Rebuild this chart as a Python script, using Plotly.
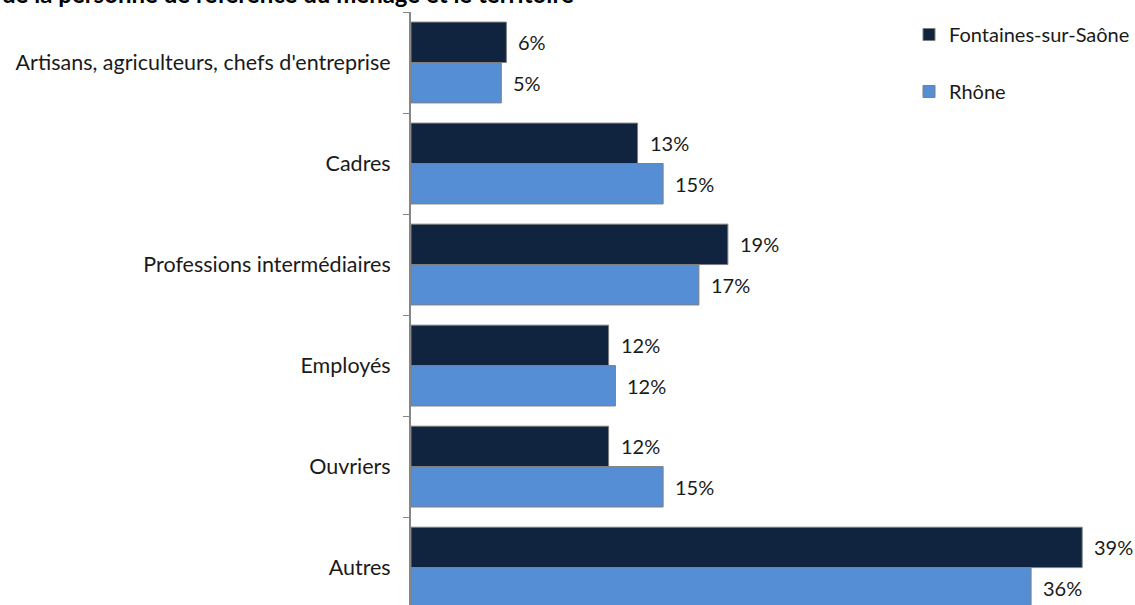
import plotly.graph_objects as go

categories = [
    "Artisans, agriculteurs, chefs d'entreprise",
    "Cadres",
    "Professions intermédiaires",
    "Employés",
    "Ouvriers",
    "Autres",
]
fontaines = [5.6, 13.3, 18.6, 11.6, 11.6, 39.4]
rhone = [5.3, 14.8, 16.9, 12.0, 14.8, 36.4]
series_names = ["Fontaines-sur-Saône", "Rhône"]
title_text = "de la personne de référence du ménage et le territoire"

W, H = 1135, 605
ML, MT = 411, 12
PW, PH = W - ML, H - MT
FONT = "Lato"

fig = go.Figure()
fig.add_trace(go.Bar(
    y=categories, x=fontaines, orientation="h", name=series_names[0],
    marker=dict(color="#11243F", line=dict(color="#7F7F7F", width=1)),
    legendgroup="a",
))
fig.add_trace(go.Bar(
    y=categories, x=rhone, orientation="h", name=series_names[1],
    marker=dict(color="#558ED5", line=dict(color="#7F7F7F", width=1)),
    legendgroup="b",
))

# value labels to the right of each bar
group_px = PH / 5.87
half = group_px * 0.8 / 4
annotations = []
for vals, shift in ((fontaines, half), (rhone, -half)):
    for cat, v in zip(categories, vals):
        annotations.append(dict(
            x=v, y=cat, xref="x", yref="y", text=f"{v:.0f}%",
            showarrow=False, xanchor="left", xshift=10, yshift=shift,
            font=dict(family=FONT, size=20, color="#1A1A1A"),
        ))

# chart title, running past the top edge of the page
annotations.append(dict(
    x=-(ML + 2) / PW, y=1, xref="paper", yref="paper",
    xanchor="left", yanchor="middle",
    text=f"<b>{title_text}</b>", showarrow=False, yshift=MT + 7,
    font=dict(family=FONT, size=24, color="#000000"),
))

fig.update_layout(
    width=W, height=H,
    margin=dict(l=ML, r=0, t=MT, b=0, pad=0),
    paper_bgcolor="white", plot_bgcolor="white",
    barmode="group", bargap=0.2, bargroupgap=0,
    showlegend=True,
    legend=dict(
        x=(912 - ML) / PW, y=1.0 - 3 / PH, xanchor="left", yanchor="top",
        traceorder="grouped", tracegroupgap=28,
        font=dict(family=FONT, size=20, color="#1A1A1A"),
        bgcolor="rgba(0,0,0,0)",
    ),
    annotations=annotations,
    xaxis=dict(
        range=[0, PW / 17.13], visible=False, showgrid=False,
        zeroline=False,
    ),
    yaxis=dict(
        type="category", range=[5.37, -0.5], showgrid=False, zeroline=False,
        showline=True, linecolor="#868686", linewidth=2,
        ticks="outside", tickson="boundaries", ticklen=6, tickcolor="#868686",
        tickfont=dict(family=FONT, size=21.5, color="#1A1A1A"),
        ticklabelstandoff=14,
    ),
)

fig.write_html("out.html")
